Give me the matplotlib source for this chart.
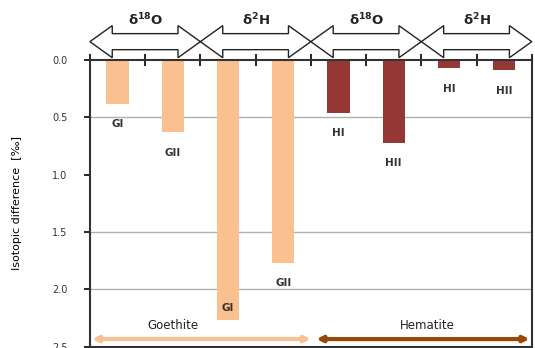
import matplotlib.pyplot as plt
import numpy as np
from matplotlib.patches import Polygon

# isotopic difference per sample, grouped as d18O / d2H for goethite then hematite
samples = ["GI", "GII", "GI", "GII", "HI", "HII", "HI", "HII"]
values = [0.38, 0.63, 2.27, 1.77, 0.46, 0.72, 0.07, 0.09]
minerals = ["Goethite", "Goethite", "Goethite", "Goethite",
            "Hematite", "Hematite", "Hematite", "Hematite"]
isotopes = [r"$\mathbf{\delta^{18}O}$", r"$\mathbf{\delta^{2}H}$",
            r"$\mathbf{\delta^{18}O}$", r"$\mathbf{\delta^{2}H}$"]
yticks = [0.0, 0.5, 1.0, 1.5, 2.0, 2.5]

bar_colors = {"Goethite": "#FAC090", "Hematite": "#953735"}
arrow_colors = {"Goethite": "#FAC090", "Hematite": "#984807"}

fig = plt.figure(figsize=(5.35, 3.48), dpi=100)
ax = fig.add_axes([0.168, 0.0043, 0.826, 0.8233])

x = np.arange(len(values))
ax.bar(x, values, width=0.4, color=[bar_colors[m] for m in minerals], zorder=2)

ax.set_xlim(-0.5, len(values) - 0.5)
ax.set_ylim(2.5, 0.0)

# horizontal gridlines
for g in [0.5, 1.5, 2.0]:
    ax.axhline(g, color="#b0b0b0", lw=1, zorder=1)

# sample labels under each bar (the long GI bar gets its label inside)
for xi, v, s in zip(x, values, samples):
    if v > 2.0:
        ty = v - 0.11
    else:
        ty = v + 0.18
    ax.text(xi, ty, s, ha="center", va="center", fontsize=7.5,
            fontweight="bold", color="#333333", zorder=3)

# ticks: y on the left, x at category boundaries on the zero line
ax.set_yticks(yticks)
ax.set_yticklabels([f"{t:.1f}" for t in yticks], fontsize=7, color="#333333")
ax.tick_params(axis="y", direction="out", length=4, width=1.2, pad=12)
ax.xaxis.tick_top()
ax.set_xticks([])
ax.set_xticks(np.arange(-0.5, len(values)), minor=True)
ax.tick_params(axis="x", which="minor", direction="inout", length=8, width=1.2)
ax.set_xticklabels([])

for sp in ax.spines.values():
    sp.set_color("#333333")
    sp.set_linewidth(1.5)

ax.set_ylabel("Isotopic difference  [‰]", fontsize=8, labelpad=22)

# double-headed block arrows above each pair of bars
yc, head_h, shaft_h, head_l = -0.16, 0.14, 0.07, 0.405
for i, lab in enumerate(isotopes):
    x0 = -0.5 + 2 * i
    x1 = x0 + 2
    pts = [
        (x0, yc),
        (x0 + head_l, yc - head_h),
        (x0 + head_l, yc - shaft_h),
        (x1 - head_l, yc - shaft_h),
        (x1 - head_l, yc - head_h),
        (x1, yc),
        (x1 - head_l, yc + head_h),
        (x1 - head_l, yc + shaft_h),
        (x0 + head_l, yc + shaft_h),
        (x0 + head_l, yc + head_h),
    ]
    ax.add_patch(Polygon(pts, closed=True, facecolor="white", edgecolor="#222222",
                         lw=1, clip_on=False, zorder=4))
    ax.text((x0 + x1) / 2, -0.35, lab, ha="center", va="center", fontsize=9.5,
            color="#222222", clip_on=False)

# mineral range arrows along the bottom
ax.annotate("", xy=(-0.46, 2.435), xytext=(3.5, 2.435),
            arrowprops=dict(arrowstyle="<|-|>", lw=3, mutation_scale=8,
                            color=arrow_colors["Goethite"], shrinkA=0, shrinkB=0))
ax.annotate("", xy=(3.6, 2.435), xytext=(7.46, 2.435),
            arrowprops=dict(arrowstyle="<|-|>", lw=3, mutation_scale=8,
                            color=arrow_colors["Hematite"], shrinkA=0, shrinkB=0))
ax.text(1.0, 2.32, "Goethite", ha="center", va="center", fontsize=8.5, color="#222222")
ax.text(5.6, 2.32, "Hematite", ha="center", va="center", fontsize=8.5, color="#222222")

fig.savefig("out.png", dpi=100)
